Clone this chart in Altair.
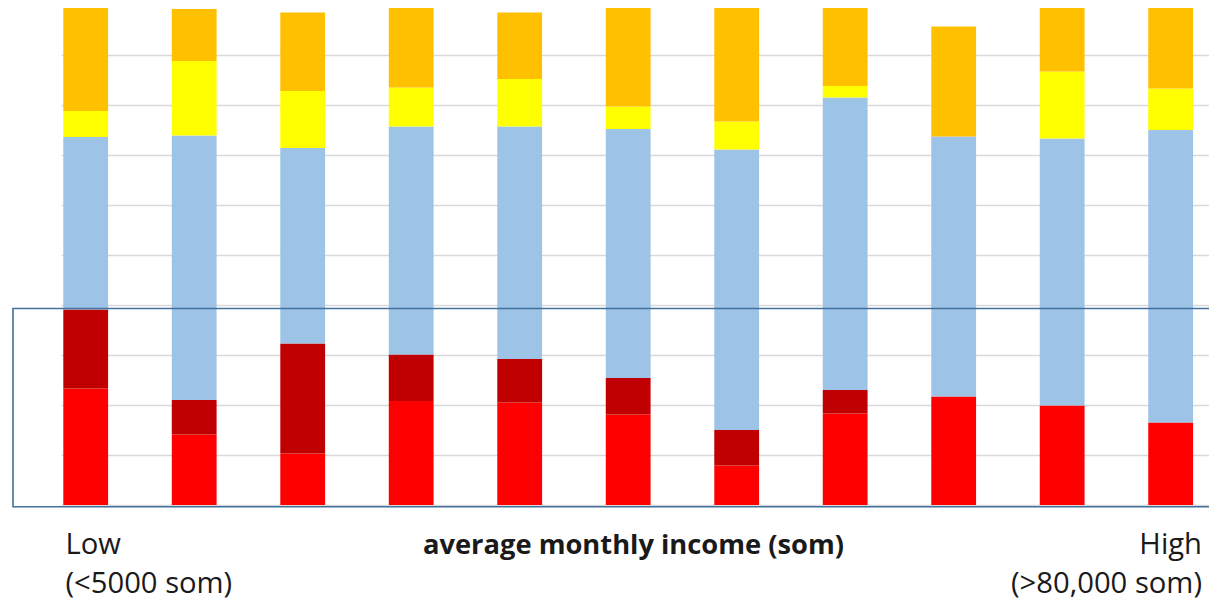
import altair as alt
import pandas as pd

groups = [f"G{i}" for i in range(1, 12)]
series_names = ["s1", "s2", "s3", "s4", "s5"]
series_colors = ["#FF0000", "#C00000", "#9DC3E6", "#FFFF00", "#FFC000"]

red = [23.3, 14.1, 10.3, 20.8, 20.5, 18.1, 7.9, 18.3, 21.7, 19.9, 16.5]
dark_red = [15.8, 6.9, 22.0, 9.3, 8.7, 7.3, 7.1, 4.7, 0.0, 0.0, 0.0]
blue = [34.5, 52.9, 39.1, 45.6, 46.5, 49.8, 56.1, 58.5, 52.0, 53.4, 58.5]
yellow = [5.2, 14.9, 11.4, 7.8, 9.5, 4.5, 5.6, 2.3, 0.0, 13.4, 8.3]
orange = [21.1, 10.4, 15.7, 16.7, 13.3, 20.3, 23.4, 16.3, 22.0, 13.3, 16.7]

highlight_top = [39.3]
highlight_bottom = [-0.35]

axis_title = "average monthly income (som)"
low_label = ["Low", "(<5000 som)"]
high_label = ["High", "(>80,000 som)"]

rows = []
for si, (name, vals) in enumerate(zip(series_names, [red, dark_red, blue, yellow, orange])):
    for g, v in zip(groups, vals):
        rows.append({"group": g, "series": name, "ord": si, "value": v})
df = pd.DataFrame(rows)

FONT = "Open Sans"
TXT = "#1a1a1a"

bars = alt.Chart(df).mark_bar().encode(
    x=alt.X(
        "group:N",
        sort=groups,
        scale=alt.Scale(paddingInner=0.587, paddingOuter=0.084, align=0.126, round=False),
        axis=alt.Axis(
            title=axis_title, labels=False, ticks=False, domain=False, grid=False,
            titleFont=FONT, titleFontSize=27.3, titleFontWeight="bold", titleColor=TXT,
            titleX=572, titleY=48, titleAlign="center", titleBaseline="alphabetic",
        ),
    ),
    y=alt.Y(
        "value:Q",
        stack="zero",
        scale=alt.Scale(domain=[0, 100], nice=False),
        axis=alt.Axis(
            values=list(range(0, 101, 10)), labels=False, ticks=False, domain=False,
            title=None, grid=True, gridColor="#d9d9d9", gridWidth=1.5,
        ),
    ),
    color=alt.Color("series:N", scale=alt.Scale(domain=series_names, range=series_colors), legend=None),
    order=alt.Order("ord:Q", sort="ascending"),
)

box = alt.Chart(pd.DataFrame({"top": highlight_top, "bottom": highlight_bottom})).mark_rect(
    fill="transparent", stroke="#41719C", strokeWidth=1.6
).encode(
    y="top:Q", y2="bottom:Q", x=alt.value(-48), x2=alt.value(1170)
)

low = alt.Chart(pd.DataFrame({"t": ["\n".join(low_label)]})).mark_text(
    font=FONT, fontSize=29.2, color=TXT, align="left", baseline="alphabetic",
    lineBreak="\n", lineHeight=39,
).encode(text="t:N", x=alt.value(4.5), y=alt.value(549))

high = alt.Chart(pd.DataFrame({"t": ["\n".join(high_label)]})).mark_text(
    font=FONT, fontSize=29.2, color=TXT, align="right", baseline="alphabetic",
    lineBreak="\n", lineHeight=39,
).encode(text="t:N", x=alt.value(1141), y=alt.value(549))

chart = alt.layer(bars, box, low, high).properties(
    width=1148,
    height=500,
    autosize=alt.AutoSizeParams(type="none"),
    padding={"left": 53, "top": -3, "right": 0, "bottom": 96},
    background="white",
).configure_view(strokeWidth=0)

chart.save("out.html", embed_options={"renderer": "svg", "actions": False})
